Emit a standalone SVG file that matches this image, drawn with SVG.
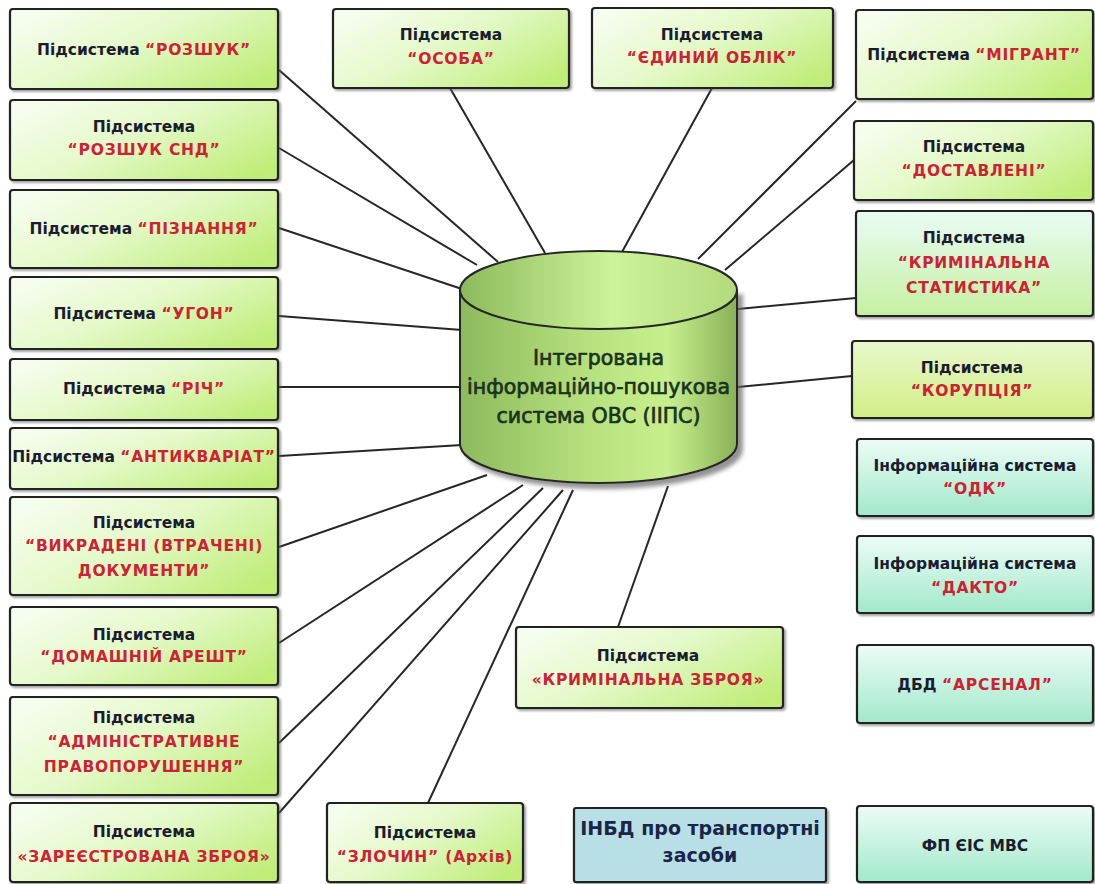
<svg xmlns="http://www.w3.org/2000/svg" width="1095" height="884" viewBox="0 0 1095 884">
<defs>
<linearGradient id="gGreen" x1="0" y1="0.2" x2="1" y2="0.8">
<stop offset="0" stop-color="#f6fdee"/>
<stop offset="0.45" stop-color="#e4f9c8"/>
<stop offset="1" stop-color="#bfed78"/>
</linearGradient>
<linearGradient id="gMint" x1="0" y1="0" x2="0" y2="1">
<stop offset="0" stop-color="#ecfcf6"/>
<stop offset="1" stop-color="#a2e9cb"/>
</linearGradient>
<linearGradient id="gStat" x1="0" y1="0" x2="0" y2="1">
<stop offset="0" stop-color="#e8fcf4"/>
<stop offset="1" stop-color="#c6f0a2"/>
</linearGradient>
<linearGradient id="gKor" x1="0" y1="0" x2="0" y2="1">
<stop offset="0" stop-color="#e8f9cc"/>
<stop offset="1" stop-color="#d2ee86"/>
</linearGradient>
<linearGradient id="gSide" x1="0" y1="0" x2="1" y2="0">
<stop offset="0" stop-color="#8dba5c"/>
<stop offset="0.45" stop-color="#b6e07e"/>
<stop offset="0.75" stop-color="#c8ef8e"/>
<stop offset="1" stop-color="#88b256"/>
</linearGradient>
<linearGradient id="gTop" x1="0" y1="0" x2="1" y2="0">
<stop offset="0" stop-color="#8cba5a"/>
<stop offset="0.55" stop-color="#cdf399"/>
<stop offset="1" stop-color="#b2da7c"/>
</linearGradient>
<filter id="sh" x="-10%" y="-10%" width="130%" height="130%">
<feDropShadow dx="2" dy="2" stdDeviation="1.2" flood-color="#666" flood-opacity="0.6"/>
</filter>
<filter id="shc" x="-10%" y="-10%" width="130%" height="130%">
<feDropShadow dx="5" dy="5" stdDeviation="2" flood-color="#666" flood-opacity="0.7"/>
</filter>
</defs>
<style>
.box{stroke:#222;stroke-width:2.2;filter:url(#sh)}
.g{fill:url(#gGreen)}
.m{fill:url(#gMint)}
.lbl{font-family:"DejaVu Sans","Liberation Sans",sans-serif;font-weight:bold;font-size:15.5px;fill:#1c1c30;text-anchor:middle}
.r{fill:#cc2233;letter-spacing:0.8px}
.conn line{stroke:#262626;stroke-width:2}
.ctext{font-family:"DejaVu Sans","Liberation Sans",sans-serif;font-size:20.5px;fill:#1a3320;stroke:#1a3320;stroke-width:0.7;text-anchor:middle}
</style>
<rect width="1095" height="884" fill="#ffffff"/>
<g id="connectors" class="conn">
<line x1="279" y1="70" x2="498" y2="262"/>
<line x1="279" y1="148" x2="477" y2="265"/>
<line x1="279" y1="228" x2="462" y2="289"/>
<line x1="279" y1="316" x2="462" y2="330"/>
<line x1="279" y1="387" x2="462" y2="387"/>
<line x1="279" y1="456" x2="462" y2="445"/>
<line x1="279" y1="547" x2="487" y2="475"/>
<line x1="279" y1="643" x2="523" y2="485"/>
<line x1="279" y1="743" x2="543" y2="488"/>
<line x1="279" y1="813" x2="563" y2="490"/>
<line x1="428" y1="803" x2="573" y2="490"/>
<line x1="618" y1="627" x2="668" y2="486"/>
<line x1="450" y1="88" x2="545" y2="253"/>
<line x1="712" y1="88" x2="622" y2="252"/>
<line x1="856" y1="101" x2="698" y2="259"/>
<line x1="854" y1="160" x2="725" y2="270"/>
<line x1="856" y1="298" x2="738" y2="309"/>
<line x1="852" y1="376" x2="738" y2="387"/>
</g>
<g id="iips">
<path d="M460,290 L460,444 A138.5,39 0 0 0 737,444 L737,290 Z" fill="url(#gSide)" stroke="#262626" stroke-width="2" filter="url(#shc)"/>
<ellipse cx="598.5" cy="290" rx="138.5" ry="39" fill="url(#gTop)" stroke="#262626" stroke-width="2"/>
<text class="ctext" x="598.5" y="365">Інтегрована</text>
<text class="ctext" x="598.5" y="394">інформаційно-пошукова</text>
<text class="ctext" x="598.5" y="423">система ОВС (ІІПС)</text>
</g>
<g id="rozshuk"><rect class="box g" x="10" y="9" width="268" height="80" rx="3"/><text class="lbl" x="144" y="55">Підсистема <tspan class="r">“РОЗШУК”</tspan></text></g>
<g id="rozshuk-snd"><rect class="box g" x="10" y="100" width="268" height="80" rx="3"/><text class="lbl" x="144" y="132">Підсистема</text><text class="lbl r" x="144" y="155">“РОЗШУК СНД”</text></g>
<g id="piznannia"><rect class="box g" x="10" y="190" width="268" height="78" rx="3"/><text class="lbl" x="144" y="234">Підсистема <tspan class="r">“ПІЗНАННЯ”</tspan></text></g>
<g id="uhon"><rect class="box g" x="10" y="277" width="268" height="72" rx="3"/><text class="lbl" x="144" y="319">Підсистема <tspan class="r">“УГОН”</tspan></text></g>
<g id="rich"><rect class="box g" x="10" y="359" width="268" height="61" rx="3"/><text class="lbl" x="144" y="394">Підсистема <tspan class="r">“РІЧ”</tspan></text></g>
<g id="antykvariat"><rect class="box g" x="10" y="428" width="268" height="61" rx="3"/><text class="lbl" x="144" y="462">Підсистема <tspan class="r">“АНТИКВАРІАТ”</tspan></text></g>
<g id="vykradeni"><rect class="box g" x="10" y="497" width="268" height="98" rx="3"/><text class="lbl" x="144" y="528">Підсистема</text><text class="lbl r" x="144" y="551">“ВИКРАДЕНІ (ВТРАЧЕНІ)</text><text class="lbl r" x="144" y="576">ДОКУМЕНТИ”</text></g>
<g id="domashnii-aresht"><rect class="box g" x="10" y="607" width="268" height="78" rx="3"/><text class="lbl" x="144" y="640">Підсистема</text><text class="lbl r" x="144" y="662">“ДОМАШНІЙ АРЕШТ”</text></g>
<g id="admin"><rect class="box g" x="10" y="697" width="268" height="98" rx="3"/><text class="lbl" x="144" y="723">Підсистема</text><text class="lbl r" x="144" y="747">“АДМІНІСТРАТИВНЕ</text><text class="lbl r" x="144" y="772">ПРАВОПОРУШЕННЯ”</text></g>
<g id="zareiestrovana"><rect class="box g" x="10" y="803" width="268" height="79" rx="3"/><text class="lbl" x="144" y="837">Підсистема</text><text class="lbl r" x="144" y="862">«ЗАРЕЄСТРОВАНА ЗБРОЯ»</text></g>
<g id="osoba"><rect class="box g" x="333" y="9" width="236" height="79" rx="3"/><text class="lbl" x="451" y="40">Підсистема</text><text class="lbl r" x="451" y="64">“ОСОБА”</text></g>
<g id="yedynyi-oblik"><rect class="box g" x="592" y="8" width="241" height="80" rx="3"/><text class="lbl" x="712" y="40">Підсистема</text><text class="lbl r" x="712" y="63">“ЄДИНИЙ ОБЛІК”</text></g>
<g id="mihrant"><rect class="box g" x="856" y="10" width="237" height="89" rx="3"/><text class="lbl" x="974" y="60">Підсистема <tspan class="r">“МІГРАНТ”</tspan></text></g>
<g id="dostavleni"><rect class="box g" x="854" y="121" width="239" height="79" rx="3"/><text class="lbl" x="974" y="152">Підсистема</text><text class="lbl r" x="974" y="176">“ДОСТАВЛЕНІ”</text></g>
<g id="kryminalna-statystyka"><rect class="box" fill="url(#gStat)" x="856" y="211" width="237" height="105" rx="3"/><text class="lbl" x="974" y="243">Підсистема</text><text class="lbl r" x="974" y="268">“КРИМІНАЛЬНА</text><text class="lbl r" x="974" y="293">СТАТИСТИКА”</text></g>
<g id="koruptsiia"><rect class="box" fill="url(#gKor)" x="852" y="341" width="241" height="77" rx="3"/><text class="lbl" x="972" y="373">Підсистема</text><text class="lbl r" x="972" y="396">“КОРУПЦІЯ”</text></g>
<g id="odk"><rect class="box m" x="857" y="439" width="236" height="77" rx="3"/><text class="lbl" x="975" y="471">Інформаційна система</text><text class="lbl r" x="975" y="494">“ОДК”</text></g>
<g id="dakto"><rect class="box m" x="857" y="536" width="236" height="77" rx="3"/><text class="lbl" x="975" y="569">Інформаційна система</text><text class="lbl r" x="975" y="593">“ДАКТО”</text></g>
<g id="arsenal"><rect class="box m" x="857" y="645" width="236" height="78" rx="3"/><text class="lbl" x="975" y="690">ДБД <tspan class="r">“АРСЕНАЛ”</tspan></text></g>
<g id="fp-yeis"><rect class="box m" x="857" y="806" width="236" height="76" rx="3"/><text class="lbl" x="975" y="851">ФП ЄІС МВС</text></g>
<g id="kryminalna-zbroia"><rect class="box g" x="516" y="627" width="267" height="81" rx="3"/><text class="lbl" x="648" y="661">Підсистема</text><text class="lbl r" x="648" y="685">«КРИМІНАЛЬНА ЗБРОЯ»</text></g>
<g id="zlochyn"><rect class="box g" x="327" y="803" width="196" height="79" rx="3"/><text class="lbl" x="425" y="838">Підсистема</text><text class="lbl r" x="425" y="862">“ЗЛОЧИН” (Архів)</text></g>
<g id="inbd"><rect class="box" fill="#b8dfe6" x="574" y="808" width="252" height="74" rx="2"/><text class="lbl" style="font-size:19px;fill:#1a2548" x="700" y="835">ІНБД про транспортні</text><text class="lbl" style="font-size:19px;fill:#1a2548" x="700" y="862">засоби</text></g>
</svg>
